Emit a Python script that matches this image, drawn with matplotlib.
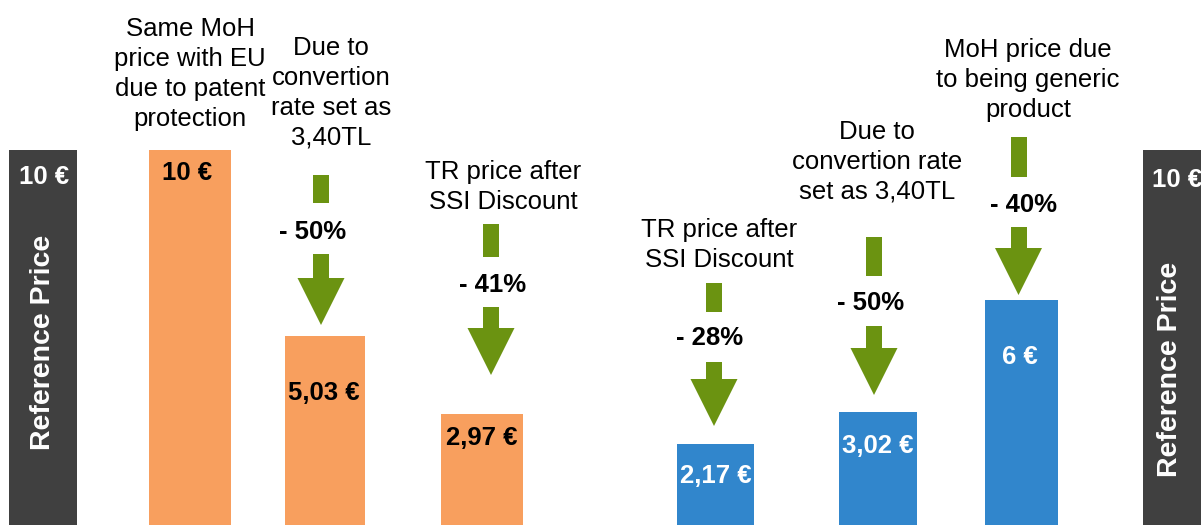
import matplotlib
matplotlib.use("Agg")
import matplotlib.pyplot as plt
from matplotlib.patches import Polygon, Rectangle

plt.rcParams["font.family"] = ["Liberation Sans", "DejaVu Sans"]

# price path: EU reference -> TR original product -> TR generic -> reference
steps = ["Reference", "MoH EU", "TL conversion", "SSI discount",
         "SSI discount", "TL conversion", "MoH generic", "Reference"]
prices = [10, 10, 5.03, 2.97, 2.17, 3.02, 6, 10]
price_labels = ["10 €", "10 €", "5,03 €", "2,97 €", "2,17 €", "3,02 €", "6 €", "10 €"]
changes = ["- 50%", "- 41%", "- 28%", "- 50%", "- 40%"]
notes = [
    "Same MoH\nprice with EU\ndue to patent\nprotection",
    "Due to\nconvertion\nrate set as\n3,40TL",
    "TR price after\nSSI Discount",
    "TR price after\nSSI Discount",
    "Due to\nconvertion rate\nset as 3,40TL",
    "MoH price due\nto being generic\nproduct",
]
side_label = "Reference Price"

# layout (pixels, figure is 1201 x 525)
W, H = 1201, 525
centers = [43, 190, 325, 482, 715.5, 878, 1021.5, 1177]
widths = [68, 82, 80, 82, 77, 78, 73, 68]
DARK, ORANGE, BLUE, GREEN = "#404040", "#F89F5E", "#3186CC", "#6B9311"
colors = [DARK, ORANGE, ORANGE, ORANGE, BLUE, BLUE, BLUE, DARK]
label_pos = [(44, 177), (187, 173), (324, 393), (482, 438),
             (716, 476), (878, 446), (1020, 357), (1177, 180)]
label_colors = ["white", "black", "black", "black", "white", "white", "white", "white"]
note_pos = [(190, 74), (331, 93), (503, 187), (719, 245), (877, 162), (1028, 80)]
# cx, stub top, stub bottom, label x, label y, shaft top, head top, tip
arrows = [
    (321, 175, 203, 313, 232, 254, 278, 325),
    (491, 224, 257, 493, 285, 307, 328, 375),
    (714, 283, 312, 710, 338, 362, 379, 426),
    (874, 237, 276, 871, 303, 326, 348, 395),
    (1018.5, 137, 177, 1023, 205, 227, 248, 295),
]

fig = plt.figure(figsize=(W / 100, H / 100), dpi=100)
ax = fig.add_axes([0, 0, 1, 1])
ax.set_xlim(0, W)
ax.set_ylim(0, 14)
ax.axis("off")
ax.bar(centers, prices, width=widths, color=colors, align="center")

# overlay in pixel coordinates for annotations
ov = fig.add_axes([0, 0, 1, 1])
ov.set_xlim(0, W)
ov.set_ylim(H, 0)
ov.axis("off")
ov.patch.set_alpha(0)

for (x, y), txt, c in zip(label_pos, price_labels, label_colors):
    ov.text(x, y, txt, ha="center", va="center", fontsize=18.5,
            fontweight="bold", color=c)

for (x, y), txt in zip(note_pos, notes):
    ov.text(x, y, txt, ha="center", va="center", fontsize=18.5,
            color="black", linespacing=1.3)

for (cx, s0, s1, lx, ly, t0, h0, tip), txt in zip(arrows, changes):
    sw, hw = 8, 23.5
    ov.add_patch(Rectangle((cx - sw, s0), 2 * sw, s1 - s0, color=GREEN, lw=0))
    ov.add_patch(Rectangle((cx - sw, t0), 2 * sw, h0 - t0 + 1, color=GREEN, lw=0))
    ov.add_patch(Polygon([(cx - hw, h0), (cx + hw, h0), (cx, tip)],
                         closed=True, color=GREEN, lw=0))
    ov.text(lx, ly, txt, ha="center", va="center", fontsize=18.5,
            fontweight="bold", color="black")

for x, y in [(43, 342), (1170, 369)]:
    ov.text(x, y, side_label, ha="center", va="center", rotation=90,
            fontsize=20.5, fontweight="bold", color="white")

fig.savefig("out.png", dpi=100)
